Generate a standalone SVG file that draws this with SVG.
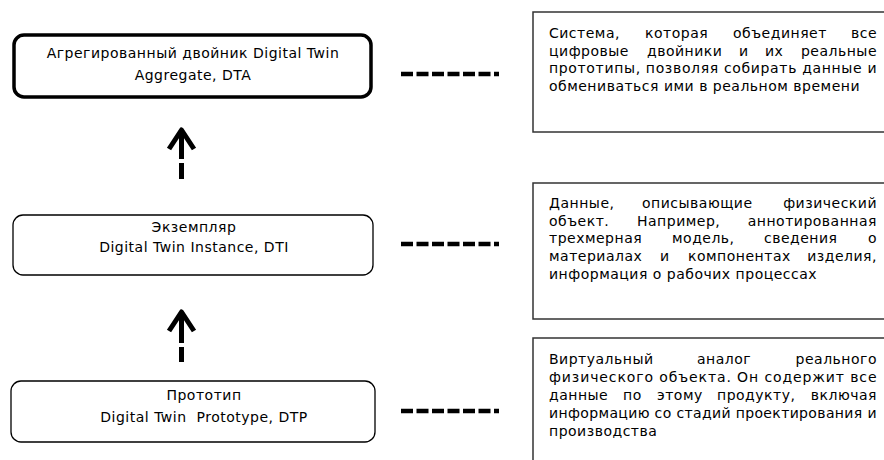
<svg xmlns="http://www.w3.org/2000/svg" width="884" height="460" viewBox="0 0 884 460">
<style>
text{font-family:"DejaVu Sans","Liberation Sans",sans-serif;font-size:14px;letter-spacing:0.5px;fill:#000}
.c{text-anchor:middle}
.e{text-anchor:end}
.lb{fill:#fff;stroke:#000;stroke-width:1.3}
.lbt{fill:#fff;stroke:#000;stroke-width:3.5}
.rb{fill:#fff;stroke:#333;stroke-width:1.5}
.arr{fill:none;stroke:#000;stroke-width:5;stroke-linecap:butt;stroke-linejoin:round}
.hd{fill:none;stroke:#000;stroke-width:4.5;stroke-dasharray:12 3.5}
</style>
<rect width="884" height="460" fill="#fff"/>
<g id="node-dta">
<rect class="lbt" x="14" y="35" width="357" height="62" rx="10"/>
<text class="c" x="193" y="58">Агрегированный двойник Digital Twin</text>
<text class="c" x="193" y="80">Aggregate, DTA</text>
</g>
<g id="node-dti">
<rect class="lb" x="13" y="215" width="360" height="60" rx="10"/>
<text class="c" x="194" y="232">Экземпляр</text>
<text class="c" x="194" y="252">Digital Twin Instance, DTI</text>
</g>
<g id="node-dtp">
<rect class="lb" x="11" y="381" width="364" height="61" rx="10"/>
<text class="c" x="204" y="400">Прототип</text>
<text class="c" x="204" y="422" xml:space="preserve">Digital Twin  Prototype, DTP</text>
</g>
<g id="desc-dta">
<rect class="rb" x="533" y="12" width="360" height="120"/>
<text x="549" y="38">Система,</text><text x="645" y="38">которая</text><text x="733" y="38">объединяет</text><text class="e" x="877" y="38">все</text>
<text x="549" y="56">цифровые</text><text x="647" y="56">двойники</text><text x="739" y="56">и</text><text x="765" y="56">их</text><text class="e" x="877" y="56">реальные</text>
<text x="549" y="73" textLength="328" lengthAdjust="spacing">прототипы, позволяя собирать данные и</text>
<text x="549" y="91">обмениваться ими в реальном времени</text>
</g>
<g id="desc-dti">
<rect class="rb" x="533" y="183" width="360" height="136"/>
<text x="549" y="208">Данные,</text><text x="642" y="208">описывающие</text><text class="e" x="877" y="208">физический</text>
<text x="549" y="226">объект.</text><text x="637" y="226">Например,</text><text class="e" x="877" y="226">аннотированная</text>
<text x="549" y="243">трехмерная</text><text x="672" y="243">модель,</text><text x="764" y="243">сведения</text><text class="e" x="877" y="243">о</text>
<text x="549" y="261">материалах</text><text x="660" y="261">и</text><text x="688" y="261">компонентах</text><text class="e" x="877" y="261">изделия,</text>
<text x="549" y="279">информация о рабочих процессах</text>
</g>
<g id="desc-dtp">
<rect class="rb" x="533" y="338" width="360" height="140"/>
<text x="549" y="364">Виртуальный</text><text x="697" y="364">аналог</text><text class="e" x="877" y="364">реального</text>
<text x="549" y="382" textLength="328" lengthAdjust="spacing">физического объекта. Он содержит все</text>
<text x="549" y="400">данные</text><text x="623" y="400">по</text><text x="657" y="400">этому</text><text x="717" y="400">продукту,</text><text class="e" x="877" y="400">включая</text>
<text x="549" y="418" textLength="328" lengthAdjust="spacing">информацию со стадий проектирования и</text>
<text x="549" y="436">производства</text>
</g>
<g id="connectors">
<path class="arr" d="M169,149 L181.5,130 L194,149 M181.5,131 V159 M181.5,163 V179"/>
<path class="arr" d="M169,331 L181.5,312 L194,331 M181.5,313 V343 M181.5,347 V362"/>
<line class="hd" x1="401" y1="74" x2="499" y2="74"/>
<line class="hd" x1="401" y1="244" x2="499" y2="244"/>
<line class="hd" x1="401" y1="411" x2="499" y2="411"/>
</g>
</svg>
